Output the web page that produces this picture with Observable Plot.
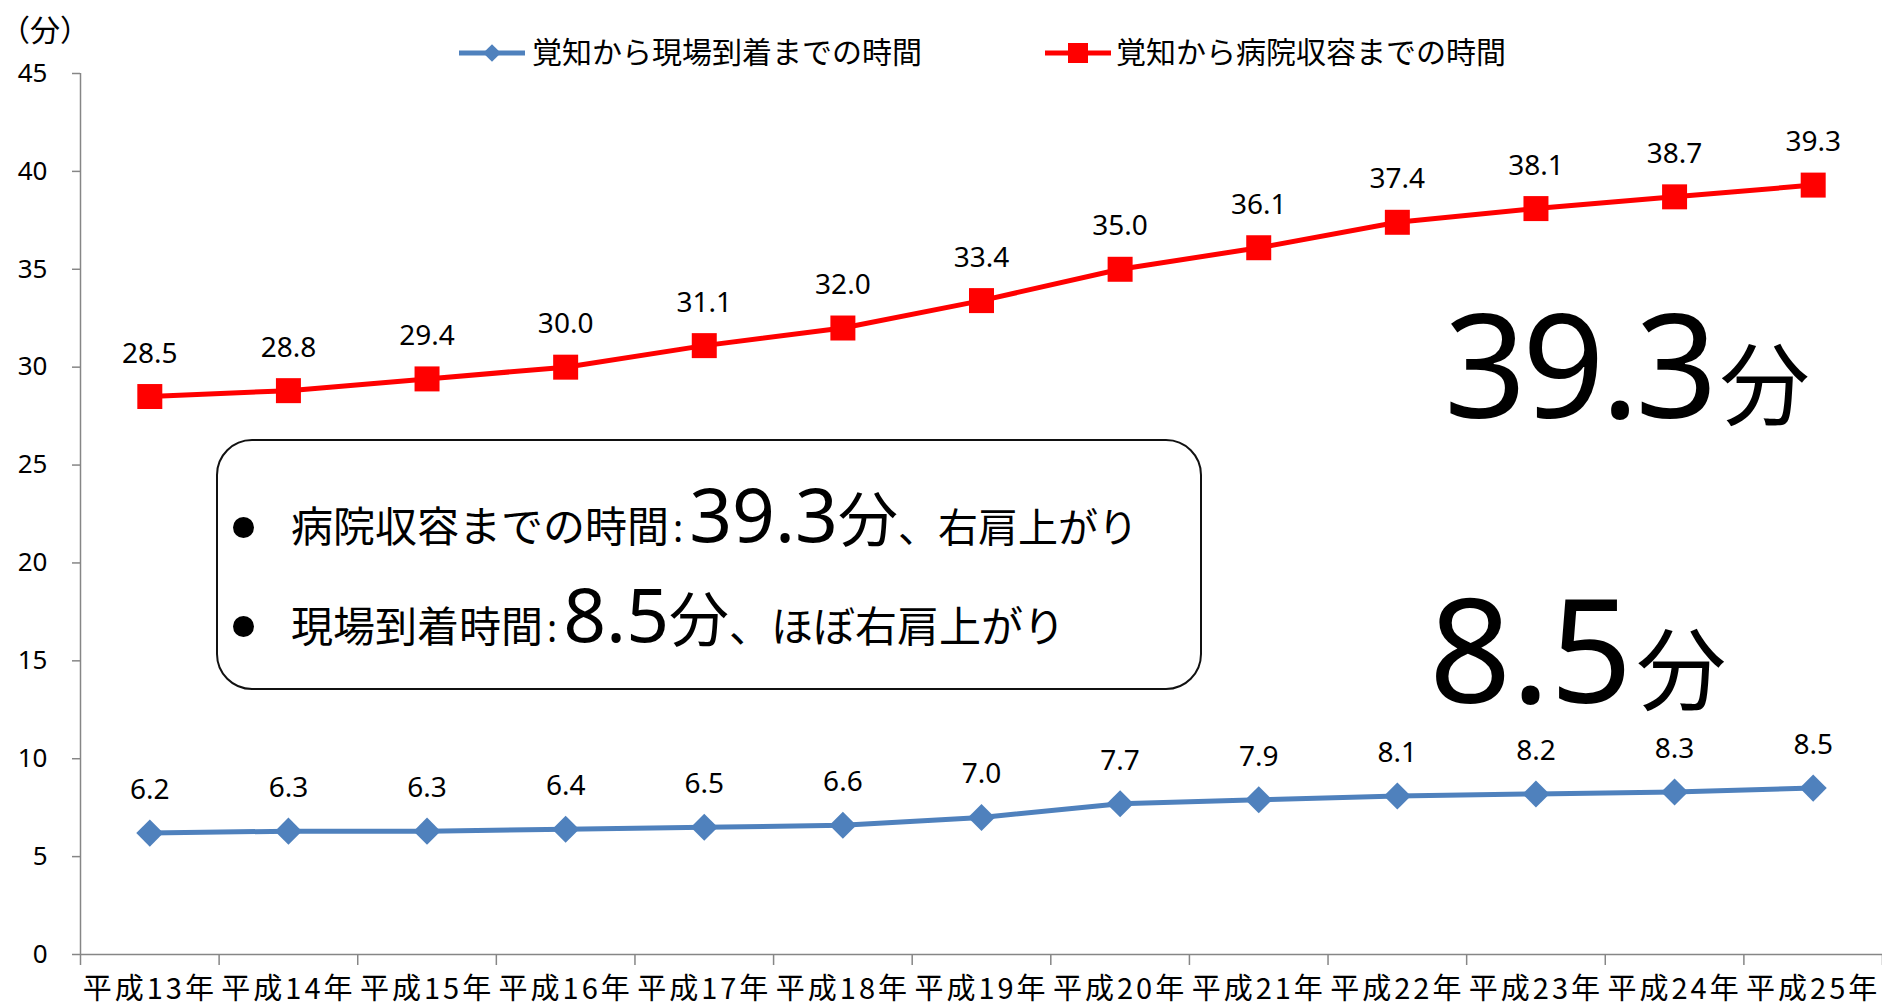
<!DOCTYPE html>
<html><head><meta charset="utf-8">
<script src="https://cdn.jsdelivr.net/npm/d3@7"></script>
<script src="https://cdn.jsdelivr.net/npm/@observablehq/plot@0.6"></script>
<style>
html,body{margin:0;padding:0;background:#fff;overflow:hidden}
#wrap{position:relative;width:1882px;height:1008px}
#wrap > svg{display:block}
.ov{position:absolute;white-space:nowrap;line-height:1;color:#000;display:flex;align-items:baseline}
.ov span{line-height:1;display:inline-block}
.box{position:absolute;box-sizing:border-box;border:2px solid #111;border-radius:36px;background:transparent}
.bullet{position:absolute;width:21px;height:21px;border-radius:50%;background:#000}
</style></head><body><div id="wrap"></div>
<script>
// ---- data ----
const years = ["平成13年","平成14年","平成15年","平成16年","平成17年","平成18年","平成19年","平成20年","平成21年","平成22年","平成23年","平成24年","平成25年"];
const arrival = [6.2, 6.3, 6.3, 6.4, 6.5, 6.6, 7.0, 7.7, 7.9, 8.1, 8.2, 8.3, 8.5];
const hospital = [28.5, 28.8, 29.4, 30.0, 31.1, 32.0, 33.4, 35.0, 36.1, 37.4, 38.1, 38.7, 39.3];
const yTicks = [0, 5, 10, 15, 20, 25, 30, 35, 40, 45];
const seriesNames = ["覚知から現場到着までの時間", "覚知から病院収容までの時間"];
const seriesColors = ["#4F81BD", "#FF0000"];
const yUnit = "（分）";
const boxLine1 = ["病院収容までの時間", ":", "39.3", "分", "、右肩上がり"];
const boxLine2 = ["現場到着時間", ":", "8.5", "分", "、ほぼ右肩上がり"];
const bigHospital = ["39.3", "分"];
const bigArrival = ["8.5", "分"];

const LATIN = "'Noto Sans', sans-serif";
const CJK = "'Noto Sans CJK JP', sans-serif";
const idx = d3.range(years.length);

const chart = Plot.plot({
  width: 1882, height: 1008,
  marginLeft: 80, marginRight: 0, marginTop: 73, marginBottom: 54,
  x: {type: "linear", domain: [-0.5, years.length - 0.5]},
  y: {domain: [0, 45]},
  style: {fontFamily: LATIN, background: "#fff", color: "#000", overflow: "visible"},
  marks: [
    Plot.axisY({ticks: yTicks, tickSize: 8, tickPadding: 25, fontSize: 26, stroke: "#868686", strokeWidth: 1.5, label: null, tickFormat: d => String(d)}),
    Plot.axisX({ticks: d3.range(-0.5, years.length, 1), tickSize: 11, tickFormat: () => "", stroke: "#868686", strokeWidth: 1.5, label: null}),
    Plot.axisX({ticks: idx, tickSize: 0, tickPadding: 24, tickFormat: i => years[i], fontSize: 29, fontFamily: CJK, label: null}),
    Plot.ruleY([0], {stroke: "#868686", strokeWidth: 1.5}),
    Plot.ruleX([-0.5], {stroke: "#868686", strokeWidth: 1.5}),
    Plot.line(idx, {x: i => i, y: i => arrival[i], stroke: seriesColors[0], strokeWidth: 5}),
    Plot.dot(idx, {x: i => i, y: i => arrival[i], symbol: "square", rotate: 45, r: 10.8, fill: seriesColors[0], stroke: null}),
    Plot.text(idx, {x: i => i, y: i => arrival[i], text: i => arrival[i].toFixed(1), dy: -43, fontSize: 28, fill: "#000"}),
    Plot.line(idx, {x: i => i, y: i => hospital[i], stroke: seriesColors[1], strokeWidth: 5}),
    Plot.dot(idx, {x: i => i, y: i => hospital[i], symbol: "square", r: 14.1, fill: seriesColors[1], stroke: null}),
    Plot.text(idx, {x: i => i, y: i => hospital[i], text: i => hospital[i].toFixed(1), dy: -43, fontSize: 28, fill: "#000"})
  ]
});
const wrap = document.getElementById("wrap");
wrap.appendChild(chart);
// widen year labels slightly (original font is wider)
d3.select(chart).selectAll("text")
  .filter(function() { return years.includes(this.textContent); })
  .style("letter-spacing", "3px");

// ---- overlays (legend, unit, annotations) ----
const K = {latin: 0.888, cjk: 0.936};
function line(parts, left, baseline) {
  const d = document.createElement("div");
  d.className = "ov";
  let maxAsc = 0;
  for (const p of parts) {
    const s = document.createElement("span");
    s.textContent = p.t;
    s.style.fontSize = p.size + "px";
    s.style.fontFamily = p.cjk ? CJK : LATIN;
    if (p.ls != null) s.style.letterSpacing = p.ls + "px";
    if (p.ml != null) s.style.marginLeft = p.ml + "px";
    d.appendChild(s);
    maxAsc = Math.max(maxAsc, (p.cjk ? K.cjk : K.latin) * p.size);
  }
  d.style.left = left + "px";
  d.style.top = (baseline - maxAsc) + "px";
  wrap.appendChild(d);
  return d;
}

// unit label
line([{t: yUnit, size: 30, cjk: true}], 0, 41);

// legend
function swatch(left, kind, color) {
  const ns = "http://www.w3.org/2000/svg";
  const s = document.createElementNS(ns, "svg");
  s.setAttribute("width", 66); s.setAttribute("height", 26);
  s.style.position = "absolute"; s.style.left = left + "px"; s.style.top = "40px";
  const l = document.createElementNS(ns, "line");
  l.setAttribute("x1", 0); l.setAttribute("x2", 66); l.setAttribute("y1", 13); l.setAttribute("y2", 13);
  l.setAttribute("stroke", color); l.setAttribute("stroke-width", 5);
  s.appendChild(l);
  const m = document.createElementNS(ns, "rect");
  const sz = kind === "diamond" ? 12.5 : 20;
  m.setAttribute("x", 33 - sz / 2); m.setAttribute("y", 13 - sz / 2);
  m.setAttribute("width", sz); m.setAttribute("height", sz); m.setAttribute("fill", color);
  if (kind === "diamond") m.setAttribute("transform", "rotate(45 33 13)");
  s.appendChild(m);
  wrap.appendChild(s);
}
swatch(459, "diamond", seriesColors[0]);
line([{t: seriesNames[0], size: 30, cjk: true}], 532, 63);
swatch(1045, "square", seriesColors[1]);
line([{t: seriesNames[1], size: 30, cjk: true}], 1116, 63);

// big numbers on the right
line([{t: bigHospital[0], size: 144, ls: -4}, {t: bigHospital[1], size: 90, cjk: true, ml: 6}], 1444, 418);
line([{t: bigArrival[0], size: 144}, {t: bigArrival[1], size: 90, cjk: true, ml: 4}], 1429, 703);

// rounded box
const box = document.createElement("div");
box.className = "box";
Object.assign(box.style, {left: "216px", top: "439px", width: "986px", height: "251px"});
wrap.appendChild(box);
for (const cy of [527, 626]) {
  const b = document.createElement("div");
  b.className = "bullet";
  b.style.left = (243 - 10.5) + "px"; b.style.top = (cy - 10.5) + "px";
  wrap.appendChild(b);
}
function boxParts(arr, tail) {
  return [
    {t: arr[0], size: 42, cjk: true},
    {t: arr[1], size: 38, ml: 4},
    {t: arr[2], size: 75, ml: 6},
    {t: arr[3], size: 60, cjk: true},
    {t: arr[4], size: tail, cjk: true}
  ];
}
line(boxParts(boxLine1, 40), 291, 543);
line(boxParts(boxLine2, 42), 291, 643);
</script></body></html>
